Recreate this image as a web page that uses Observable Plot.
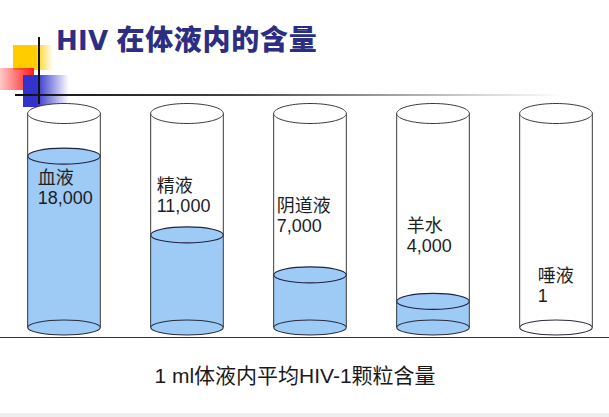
<!DOCTYPE html>
<html>
<head>
<meta charset="utf-8">
<script src="https://cdn.jsdelivr.net/npm/d3@7"></script>
<script src="https://cdn.jsdelivr.net/npm/@observablehq/plot@0.6"></script>
<style>
  html, body { margin: 0; padding: 0; background: #fff; }
  #fig { position: relative; width: 609px; height: 417px; overflow: hidden; background: #fff;
         font-family: "Liberation Sans", Arial, "Noto Sans CJK SC", sans-serif; }
  #fig svg { position: absolute; left: 0; top: 0; }
  .deco { position: absolute; }
  #title { position: absolute; left: 56px; top: 24px; line-height: 28px; font-size: 28px; font-weight: 900;
           color: #2B2E83; white-space: nowrap; letter-spacing: 0.7px;
           font-family: "Noto Sans CJK SC", sans-serif; }
  #title .lat { font-family: "DejaVu Sans", sans-serif; font-weight: 700; font-size: 26px; letter-spacing: 0.3px; margin-right: 8px; }
  #caption { position: absolute; left: 0; width: 590px; text-align: center; top: 366px; line-height: 20px;
             font-size: 21px; color: #1a1a1a; white-space: nowrap; }
</style>
</head>
<body>
<div id="fig">
  <div class="deco" style="left:13px;top:45px;width:40px;height:25px;background:linear-gradient(to right,#FFCC00 0%,#FFCC00 55%,rgba(255,204,0,0) 100%);"></div>
  <div class="deco" style="left:0px;top:68px;width:34px;height:22px;background:linear-gradient(to right,rgba(255,40,40,0.25) 0%,#FF1A1A 100%);"></div>
  <div class="deco" style="left:23px;top:75px;width:46px;height:32px;background:linear-gradient(to right,#3333CC 0%,#3333CC 30%,rgba(51,51,204,0) 100%);"></div>
  <div class="deco" style="left:38px;top:37px;width:2px;height:67px;background:#111;"></div>
  <div class="deco" style="left:15px;top:94px;width:550px;height:2px;background:linear-gradient(to right,#111 0%,#444 40%,rgba(120,120,120,0.3) 85%,rgba(200,200,200,0) 100%);"></div>
  <div class="deco" style="left:0px;top:337px;width:609px;height:1px;background:#333;"></div>
  <div class="deco" style="left:0px;top:413px;width:609px;height:4px;background:#eeeeee;"></div>
  <div id="title"><span class="lat">HIV</span>在体液内的含量</div>
  <div id="caption">1 ml体液内平均HIV-1颗粒含量</div>
</div>
<script>
// ---- data ----
const fluids = ["血液", "精液", "阴道液", "羊水", "唾液"];
const particles = [18000, 11000, 7000, 4000, 1];   // HIV-1 particles per ml
const capacity = 21500;                             // level of a full cylinder on the same scale

const data = fluids.map((name, i) => ({name, value: particles[i]}));
const fmt = d3.format(",");

// ---- layout ----
const W = 609, H = 417;
const mL = 27, mR = 17, mT = 113, mB = 90;
const xOpts = {domain: fluids, paddingInner: 0.41, paddingOuter: 0, axis: null};
const yOpts = {type: "pow", exponent: 1.25, domain: [0, capacity], axis: null};
const xs = Plot.scale({x: {...xOpts, type: "band", range: [mL, W - mR]}});
const ys = Plot.scale({y: {...yOpts, range: [H - mB, mT]}});
const bw = xs.bandwidth;
const rx = bw / 2;

// an ellipse-shaped symbol (width 2r, height 2r*ratio)
function ellipse(ratio) {
  return {
    draw(ctx, size) {
      const a = Math.sqrt(size / Math.PI), b = a * ratio, k = 0.5523;
      ctx.moveTo(a, 0);
      ctx.bezierCurveTo(a, b * k, a * k, b, 0, b);
      ctx.bezierCurveTo(-a * k, b, -a, b * k, -a, 0);
      ctx.bezierCurveTo(-a, -b * k, -a * k, -b, 0, -b);
      ctx.bezierCurveTo(a * k, -b, a, -b * k, a, 0);
      ctx.closePath();
    }
  };
}

const liquid = "#9DCBF6";
const hasLiquid = d => ys.apply(0) - ys.apply(d.value) > 1;

// label placement (pixel layout)
const labelTop = [169, 177, 197, 217, 267];
const labelInset = [10, 6, 3, 10, 18];

const labelMarks = data.map((d, i) => Plot.text([d], {
  x: "name",
  text: d => d.name + "\n" + fmt(d.value),
  frameAnchor: "top",
  textAnchor: "start",
  lineAnchor: "top",
  lineHeight: 1.11,
  dx: -rx + labelInset[i],
  dy: labelTop[i] - mT,
  fontSize: 18,
  fill: "#1e1e1e"
}));

const plot = Plot.plot({
  width: W, height: H,
  marginLeft: mL, marginRight: mR, marginTop: mT, marginBottom: mB,
  x: xOpts,
  y: yOpts,
  style: {background: "transparent", fontFamily: "'Liberation Sans', Arial, 'Noto Sans CJK SC', sans-serif"},
  marks: [
    // liquid column
    Plot.barY(data, {x: "name", y: "value", fill: liquid}),
    // cylinder bottom
    Plot.dot(data, {x: "name", y: 0, r: rx, symbol: ellipse(7.5 / rx),
      fill: d => hasLiquid(d) ? liquid : "#ffffff", stroke: "#2a2a3a", strokeWidth: 1.1}),
    // liquid surface
    Plot.dot(data.filter(hasLiquid), {x: "name", y: "value", r: rx, symbol: ellipse(8 / rx),
      fill: liquid, stroke: "#1f2240", strokeWidth: 1.1}),
    // cylinder walls
    Plot.ruleX(data, {x: "name", y1: 0, y2: capacity, dx: -rx, stroke: "#3a3a3a", strokeWidth: 1}),
    Plot.ruleX(data, {x: "name", y1: 0, y2: capacity, dx: rx, stroke: "#3a3a3a", strokeWidth: 1}),
    // cylinder mouth
    Plot.dot(data, {x: "name", y: capacity, r: rx, symbol: ellipse(10 / rx),
      fill: "#ffffff", stroke: "#3a3a3a", strokeWidth: 1}),
    ...labelMarks
  ]
});
document.getElementById("fig").insertBefore(plot, document.getElementById("title"));
</script>
</body>
</html>
